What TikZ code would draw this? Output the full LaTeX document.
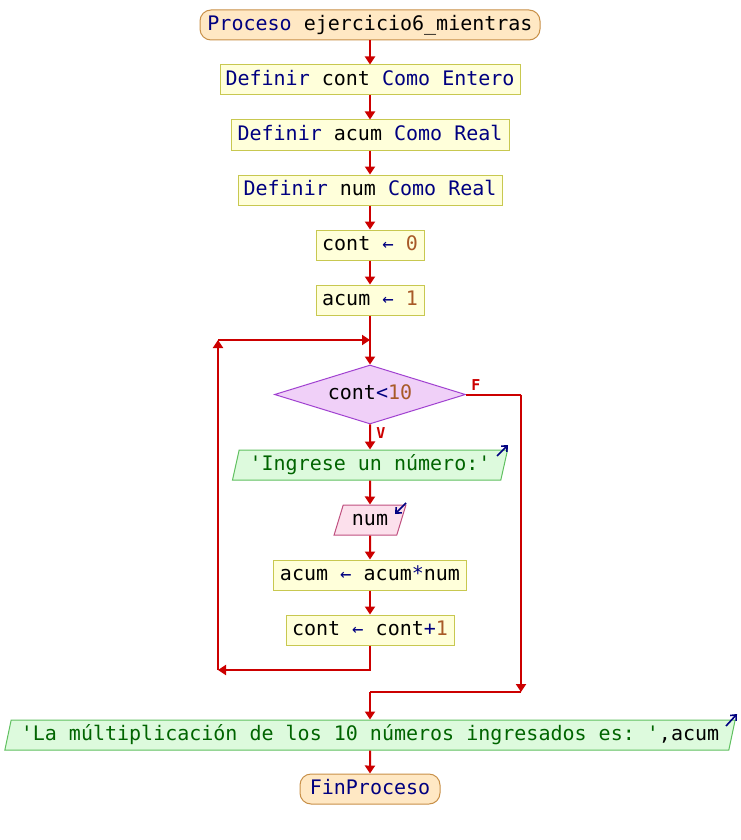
\documentclass[tikz,border=0pt]{standalone}
\usepackage{fontspec}
\setmonofont{DejaVu Sans Mono}
\usetikzlibrary{arrows.meta,shapes.geometric}
\definecolor{kw}{HTML}{000080}
\definecolor{numc}{HTML}{A85A28}
\definecolor{strc}{HTML}{006400}
\definecolor{flow}{HTML}{CC0000}
\definecolor{boxfill}{HTML}{FFFFDA}
\definecolor{boxline}{HTML}{C8C850}
\definecolor{termfill}{HTML}{FFE8C4}
\definecolor{termline}{HTML}{C89048}
\definecolor{decfill}{HTML}{F0D0F8}
\definecolor{decline}{HTML}{A040D0}
\definecolor{infill}{HTML}{FCE0EC}
\definecolor{inline}{HTML}{C05080}
\definecolor{outfill}{HTML}{DDFADD}
\definecolor{outline}{HTML}{60C060}
\newcommand{\K}[1]{\textcolor{kw}{#1}}
\newcommand{\N}[1]{\textcolor{numc}{#1}}
\newcommand{\St}[1]{\textcolor{strc}{#1}}
\newcommand{\As}{\textcolor{kw}{\fontsize{19}{19}\selectfont ←}}
\tikzset{
  base/.style={font=\ttfamily\fontsize{20}{24}\selectfont, inner sep=0pt, minimum height=30pt, text height=14.5pt, text depth=4pt},
  procbox/.style={base, draw=boxline, fill=boxfill, line width=1pt},
  termbox/.style={base, draw=termline, fill=termfill, line width=1pt, rounded corners=11pt},
  decbox/.style={base, diamond, aspect=3.24, draw=decline, fill=decfill, line width=1pt, minimum height=59pt, minimum width=191pt},
  inbox/.style={base, trapezium, trapezium left angle=71.6, trapezium right angle=108.4, trapezium stretches=true, draw=inline, fill=infill, line width=1pt},
  outbox/.style={base, trapezium, trapezium left angle=71.6, trapezium right angle=108.4, trapezium stretches=true, draw=outline, fill=outfill, line width=1pt},
  flowline/.style={draw=flow, line width=2pt},
  arr/.style={flowline, -{Triangle[length=8pt,width=10pt]}},
  lbl/.style={text=flow, font=\ttfamily\bfseries\fontsize{15}{15}\selectfont, inner sep=0pt},
  ioarrow/.style={draw=kw, line width=1.6pt, -{Straight Barb[length=4.5pt,width=8pt]}}
}
\begin{document}
\begin{tikzpicture}[x=1pt,y=-1pt]
\useasboundingbox (0,0) rectangle (740,840);
\node[termbox, minimum width=340pt] (start) at (370,25) {\K{Proceso} ejercicio6\_mientras};
\node[procbox, minimum width=300pt] (d1) at (370,80) {\K{Definir} cont \K{Como} \K{Entero}};
\node[procbox, minimum width=278pt] (d2) at (370,135) {\K{Definir} acum \K{Como} \K{Real}};
\node[procbox, minimum width=264pt] (d3) at (370,190) {\K{Definir} num \K{Como} \K{Real}};
\node[procbox, minimum width=108pt] (a1) at (370,245) {cont \As{} \N{0}};
\node[procbox, minimum width=108pt] (a2) at (370,300) {acum \As{} \N{1}};
\node[decbox] (cond) at (370,394.5) {cont\K{<}\N{10}};
\node[outbox, minimum width=276pt] (o1) at (370,465) {\St{'Ingrese un número:'}};
\node[inbox, minimum width=72pt] (in) at (370,520) {num};
\node[procbox, minimum width=193pt] (m) at (370,575) {acum \As{} acum\K{*}num};
\node[procbox, minimum width=168pt] (inc) at (370,630) {cont \As{} cont\K{+}\N{1}};
\node[outbox, minimum width=732pt] (o2) at (370,735) {\St{'La múltiplicación de los 10 números ingresados es: '},acum};
\node[termbox, minimum width=140pt] (fin) at (370,789) {\K{FinProceso}};
\node[lbl] (lf) at (476,385) {F};
\node[lbl] (lv) at (381,433) {V};
\coordinate (jt) at (370,340);
\coordinate (lt) at (218,340);
\coordinate (lb) at (218,670);
\coordinate (rt) at (521,394.5);
\coordinate (rb) at (521,692);
\coordinate (mj) at (370,692);
\draw[arr] (start) -- (d1);
\draw[arr] (d1) -- (d2);
\draw[arr] (d2) -- (d3);
\draw[arr] (d3) -- (a1);
\draw[arr] (a1) -- (a2);
\draw[flowline] (a2) -- (jt);
\draw[arr] (jt) -- (cond);
\draw[arr] (cond) -- (o1);
\draw[arr] (o1) -- (in);
\draw[arr] (in) -- (m);
\draw[arr] (m) -- (inc);
\draw[arr] (inc.south) |- (lb);
\draw[arr] (lb) -- (lt);
\draw[arr] (lt) -- (jt);
\draw[flowline] (cond.east) -- (rt);
\draw[arr] (rt) -- (rb);
\draw[flowline] (rb) -- (mj);
\draw[arr] (mj) -- (o2);
\draw[arr] (o2) -- (fin);
\coordinate (i1a) at (497,456); \coordinate (i1b) at (508,445);
\draw[ioarrow] (i1a) -- (i1b);
\coordinate (i2a) at (406,503); \coordinate (i2b) at (395,514);
\draw[ioarrow] (i2a) -- (i2b);
\coordinate (i3a) at (726,726); \coordinate (i3b) at (737,714);
\draw[ioarrow] (i3a) -- (i3b);
\end{tikzpicture}
\end{document}
